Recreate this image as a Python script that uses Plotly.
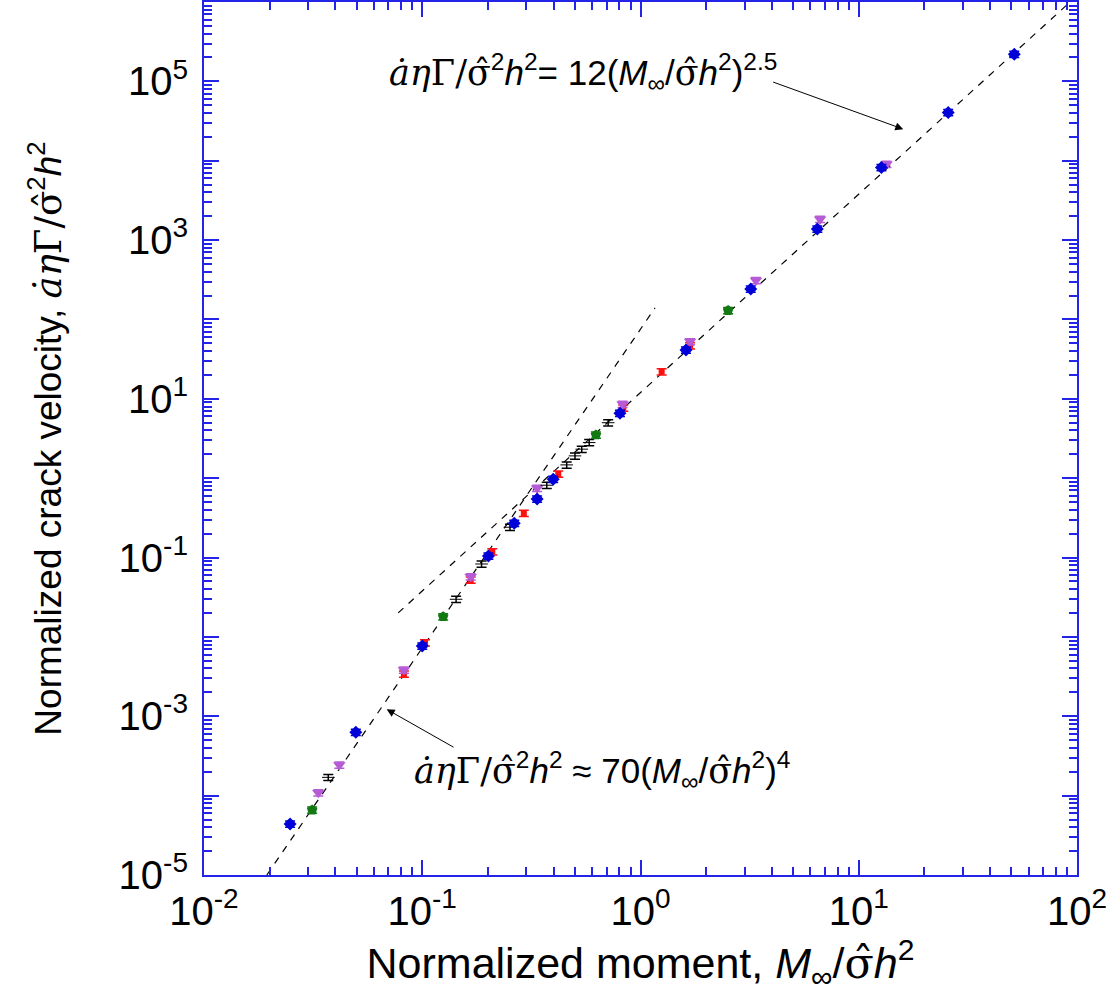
import plotly.graph_objects as go

# ---- data ----
blue_x = [0.0248, 0.0496, 0.100, 0.201, 0.264, 0.336, 0.398, 0.805, 1.616, 3.20, 6.46, 12.7, 25.7, 51.6]
blue_y = [4.4e-5, 6.28e-4, 7.7e-3, 0.1047, 0.270, 0.548, 0.97, 6.59, 41.3, 242.7, 1384, 8200, 40460, 2.2e5]

purple_x = [0.0334, 0.0417, 0.0824, 0.1667, 0.336, 0.828, 1.687, 3.38, 6.65, 13.4]
purple_y = [1.09e-4, 2.43e-4, 3.83e-3, 0.0574, 0.746, 8.55, 52.6, 309, 1833, 9040]

green_x = [0.0313, 0.1247, 0.625, 2.52]
green_y = [6.6e-5, 0.018, 3.51, 129.5]

red_x = [0.0824, 0.103, 0.1667, 0.2094, 0.292, 0.420, 0.834, 1.25, 1.687]
red_y = [3.41e-3, 8.47e-3, 0.0522, 0.1186, 0.361, 1.13, 7.67, 22.0, 46.8]

black_x = [0.0371, 0.1429, 0.187, 0.2523, 0.372, 0.459, 0.501, 0.538, 0.582, 0.711]
black_y = [1.70e-4, 0.0298, 0.083, 0.241, 0.815, 1.47, 1.91, 2.32, 2.81, 5.0]

# power-law fit lines (end points)
fit4_x = [0.0194, 1.166]
fit4_y = [1.0e-5, 140.0]
fit25_x = [0.0776, 93.0]
fit25_y = [0.0201, 1.0e6]

x_major = [0.01, 0.1, 1, 10, 100]
x_labels = ["10<sup>-2</sup>", "10<sup>-1</sup>", "10<sup>0</sup>", "10<sup>1</sup>", "10<sup>2</sup>"]
y_major = [1e-5, 1e-4, 1e-3, 1e-2, 1e-1, 1, 10, 100, 1e3, 1e4, 1e5, 1e6]
y_labels = ["10<sup>-5</sup>", "", "10<sup>-3</sup>", "", "10<sup>-1</sup>", "", "10<sup>1</sup>", "",
            "10<sup>3</sup>", "", "10<sup>5</sup>", ""]

AXC = "#2424e8"
SERIF = "DejaVu Serif"
SANS = "Liberation Sans"


def minor_vals(lo, hi):
    vals = []
    for e in range(lo, hi):
        for m in range(2, 10):
            vals.append(m * 10 ** e)
    return vals


fig = go.Figure()

fig.add_trace(go.Scatter(x=fit4_x, y=fit4_y, mode="lines",
                         line=dict(color="black", width=1.2, dash="7px,7px"), showlegend=False))
fig.add_trace(go.Scatter(x=fit25_x, y=fit25_y, mode="lines",
                         line=dict(color="black", width=1.2, dash="7px,7px"), showlegend=False))


def pts(x, y, color, symbol, size):
    fig.add_trace(go.Scatter(
        x=x, y=y, mode="markers",
        marker=dict(color=color, symbol=symbol, size=size, line=dict(width=0)),
        error_y=dict(type="percent", value=9, color=color, thickness=1.5, width=5),
        showlegend=False))


pts(red_x, red_y, "#ff1010", "square", 6)
pts(purple_x, purple_y, "#b75ad6", "triangle-down", 11)
pts(black_x, black_y, "black", "line-ew-open", 9)
pts(green_x, green_y, "#137a13", "pentagon", 11)
pts(blue_x, blue_y, "#0000d8", "diamond", 10)

ser = lambda s: f"<span style='font-family:{SERIF}'>{s}</span>"
lhs = ser("<i>ȧη</i>Γ/σ̂") + "<sup>2</sup><i>h</i><sup>2</sup>"
txt_up = lhs + "= 12(<i>M</i><sub>∞</sub>/" + ser("σ̂") + "<i>h</i><sup>2</sup>)<sup>2.5</sup>"
txt_lo = lhs + " ≈ 70(<i>M</i><sub>∞</sub>/" + ser("σ̂") + "<i>h</i><sup>2</sup>)<sup>4</sup>"

fig.add_annotation(x=-0.262, y=5.11, xref="x", yref="y", text=txt_up, showarrow=False,
                   font=dict(size=35, color="black", family=SANS))
fig.add_annotation(x=-0.175, y=-3.68, xref="x", yref="y", text=txt_lo, showarrow=False,
                   font=dict(size=35, color="black", family=SANS))

# arrows
fig.add_annotation(x=1.204, y=4.398, ax=0.601, ay=4.998, xref="x", yref="y", axref="x", ayref="y",
                   text="", showarrow=True, arrowhead=2, arrowsize=1.6, arrowwidth=1, arrowcolor="black")
fig.add_annotation(x=-1.163, y=-2.912, ax=-0.850, ay=-3.400, xref="x", yref="y", axref="x", ayref="y",
                   text="", showarrow=True, arrowhead=2, arrowsize=1.6, arrowwidth=1, arrowcolor="black")

axis_common = dict(
    type="log", showgrid=False, zeroline=False, showline=True, linecolor=AXC, linewidth=2,
    mirror="ticks", ticks="inside", tickcolor=AXC, tickwidth=2, ticklen=15,
    tickmode="array", tickfont=dict(size=40, color="black", family=SANS),
)

fig.update_xaxes(**axis_common, range=[-2, 2], tickvals=x_major, ticktext=x_labels,
                 minor=dict(tickvals=minor_vals(-2, 2), ticks="inside", ticklen=8, tickwidth=2, tickcolor=AXC),
                 title=dict(text="Normalized moment, <i>M</i><sub>∞</sub>/" + ser("σ̂") + "<i>h</i><sup>2</sup>",
                            font=dict(size=43, color="black", family=SANS), standoff=10))
fig.update_yaxes(**axis_common, range=[-5, 6], tickvals=y_major, ticktext=y_labels,
                 ticklabelstandoff=6,
                 minor=dict(tickvals=minor_vals(-5, 6), ticks="inside", ticklen=8, tickwidth=2, tickcolor=AXC),
                 title=dict(text="Normalized crack velocity, " + lhs,
                            font=dict(size=37, color="black", family=SANS), standoff=46))

fig.update_layout(
    width=1120, height=1004,
    margin=dict(l=204, r=43, t=2, b=129, autoexpand=False),
    plot_bgcolor="white", paper_bgcolor="white",
)

fig.write_html("out.html", config={"displayModeBar": False},
               post_script="document.body.style.margin='0';")
